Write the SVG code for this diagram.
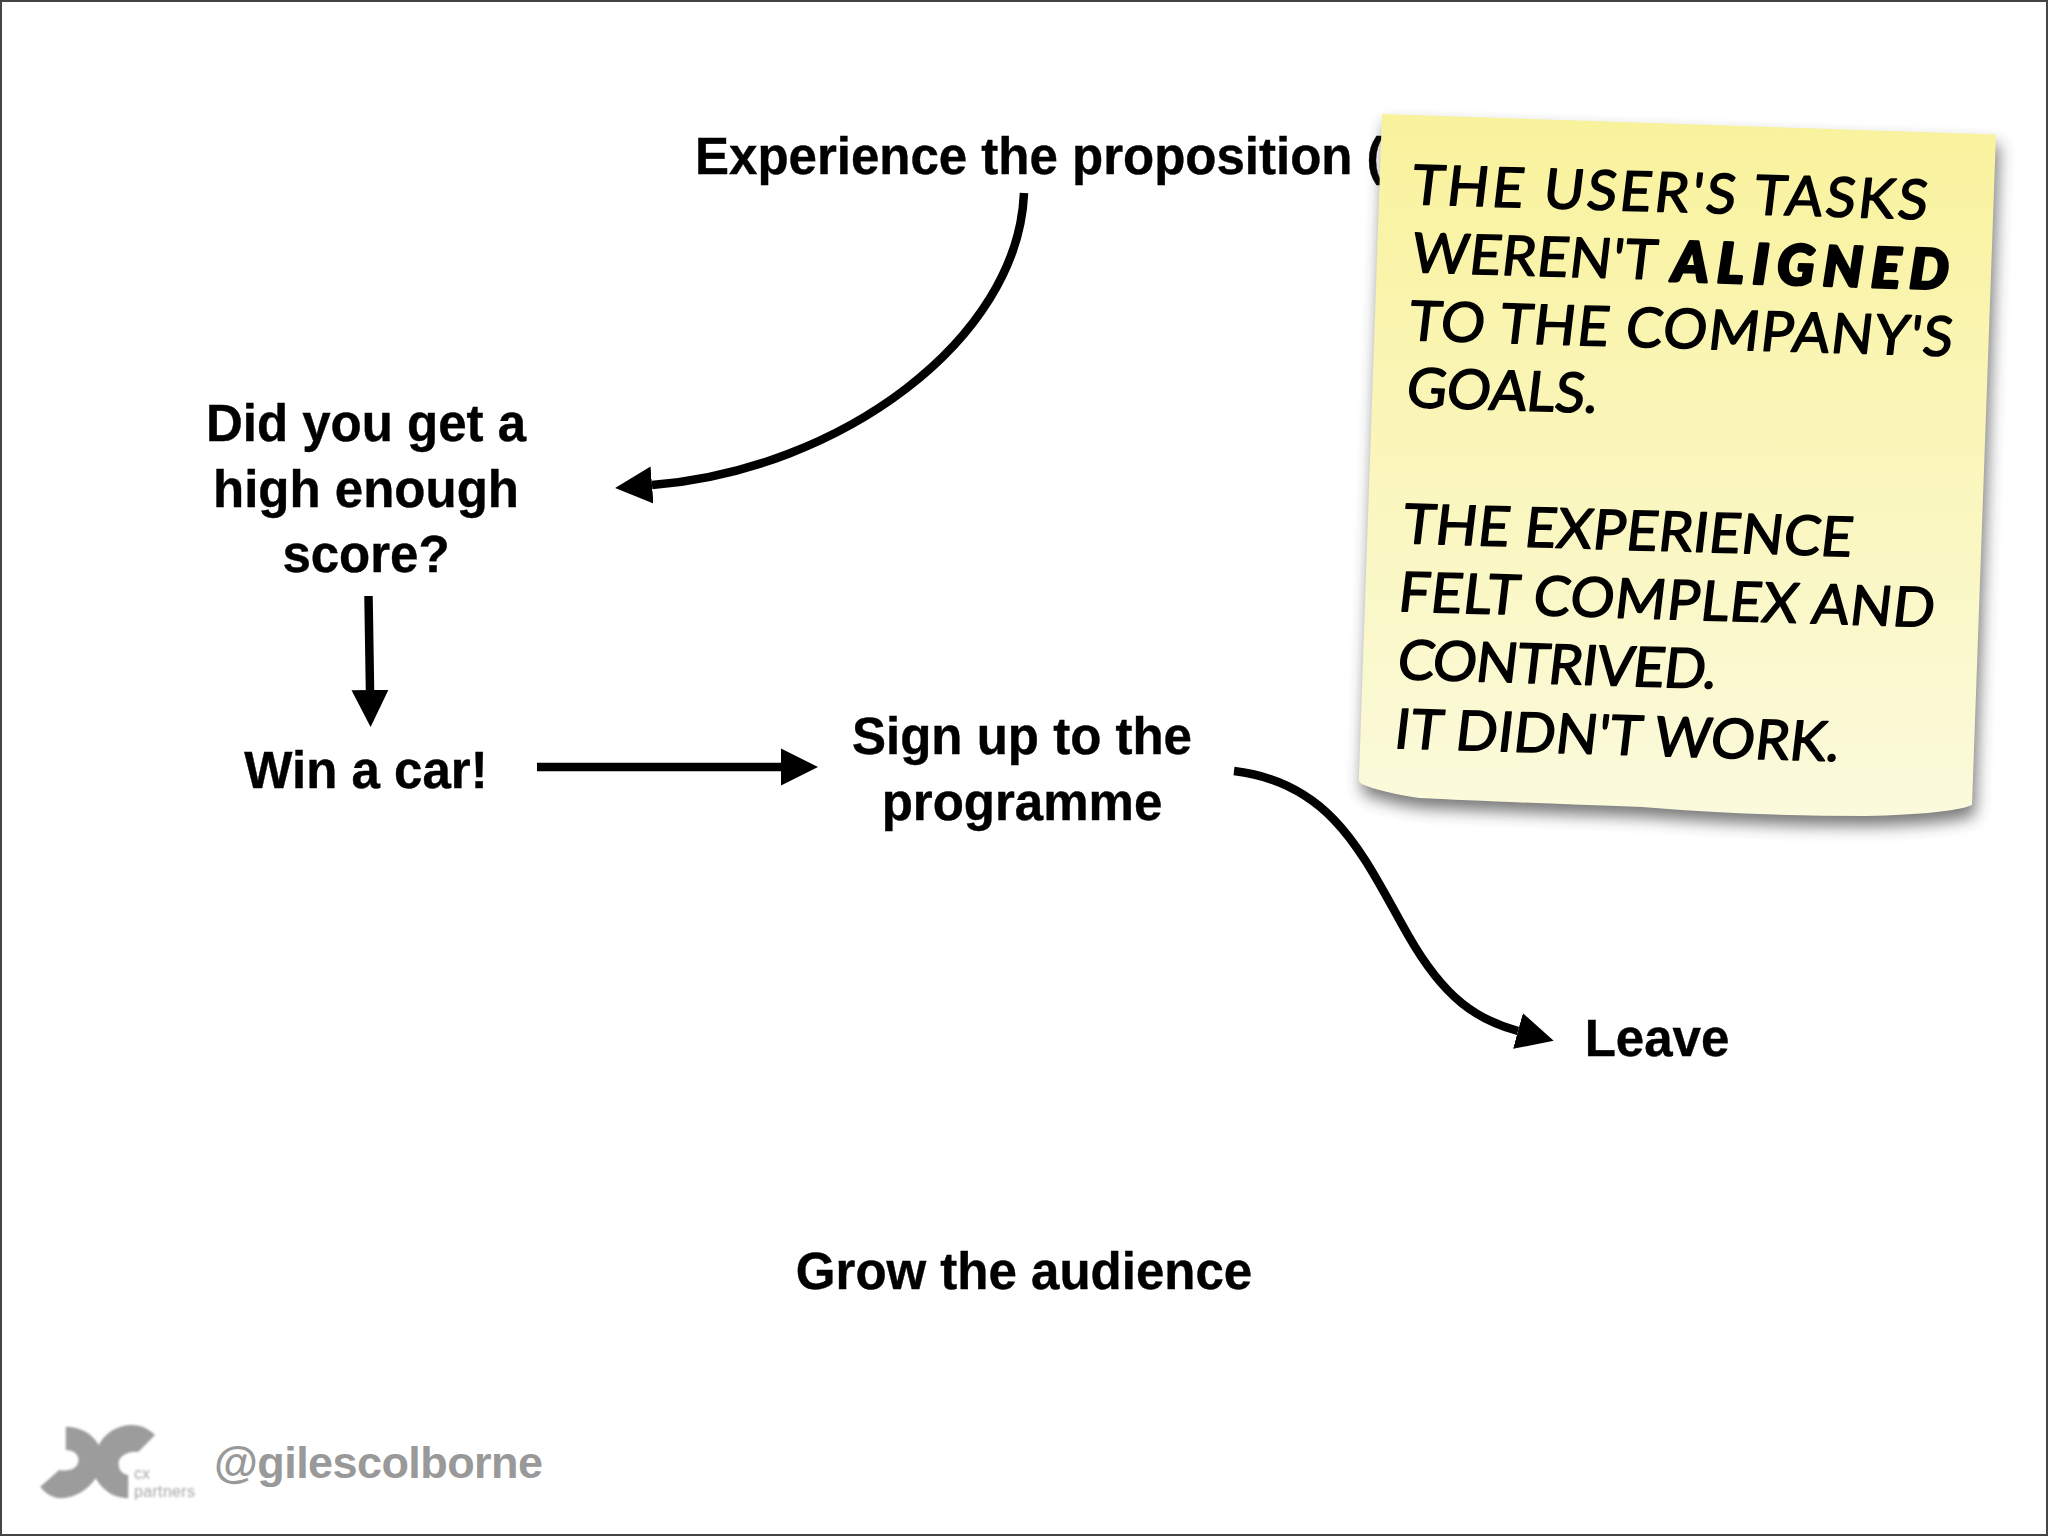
<svg xmlns="http://www.w3.org/2000/svg" width="2048" height="1536" viewBox="0 0 2048 1536">
<style>
.t{font-family:"Liberation Sans",Arial,sans-serif;font-weight:700;font-size:51px;fill:#000;text-anchor:middle;stroke:#000;stroke-width:.4px}
.n{font-family:"Lato","Noto Sans",sans-serif;font-size:55px;fill:#000;stroke:#000;stroke-width:1.500px;stroke-linejoin:round}
.b{font-weight:900;font-style:italic;stroke-width:3px}
.c{fill:none;stroke:#000;stroke-width:8.500px;marker-end:url(#h)}
.f{font-family:"Liberation Sans",sans-serif;font-size:16px;fill:#a8a8a8}
</style>
<defs>
<marker id="h" markerUnits="userSpaceOnUse" markerWidth="40" markerHeight="40" refX="0" refY="20" orient="auto"><path d="M0 1.500L37 20L0 38.500Z" fill="#000"/></marker>
<linearGradient id="y" x1="0" y1="0" x2="0" y2="1"><stop offset="0" stop-color="#f9f29c"/><stop offset="1" stop-color="#fbfadc"/></linearGradient>
<filter id="s" x="-10%" y="-10%" width="120%" height="120%"><feGaussianBlur stdDeviation="8"/></filter>
<filter id="l" x="-10%" y="-10%" width="120%" height="120%"><feGaussianBlur stdDeviation="0.9"/></filter>
<path id="np" d="M1382 114L1996 134.600L1972 805Q1950 814 1866 816Q1750 816 1642 807Q1500 802 1419 798Q1380 792 1362 784Q1358 782 1359 776Z"/>
</defs>
<rect x="1" y="1" width="2046" height="1534" fill="#fff" stroke="#444" stroke-width="2"/>
<g id="connectors">
<path class="c" d="M1024 193C1018 340 840 470 652 485"/>
<path class="c" d="M368.500 596L370 690"/>
<path class="c" d="M537 767L781 767"/>
<path class="c" d="M1234 771C1335 783 1365 860 1408 935C1445 1000 1478 1020 1518 1031"/>
</g>
<g id="node-experience"><text class="t" style="text-anchor:start" x="695" y="174">Experience the proposition (</text></g>
<g id="node-score"><text class="t" x="366" y="441">Did you get a</text><text class="t" x="366" y="507">high enough</text><text class="t" x="366" y="572">score?</text></g>
<g id="node-win"><text class="t" x="366" y="788">Win a car!</text></g>
<g id="node-signup"><text class="t" x="1022" y="754">Sign up to the</text><text class="t" x="1022" y="820">programme</text></g>
<g id="node-leave"><text class="t" x="1657" y="1056">Leave</text></g>
<g id="node-grow"><text class="t" x="1024" y="1289">Grow the audience</text></g>
<g id="note">
<use href="#np" fill="#333" opacity=".65" transform="translate(3 10)" filter="url(#s)"/>
<use href="#np" fill="url(#y)"/>
<text class="n" textLength="516" transform="translate(1410 204) rotate(1.7) skewX(-5)">THE USER'S TASKS</text>
<text class="n" textLength="245" transform="translate(1410 272) rotate(1.7) skewX(-5)">WEREN'T</text>
<text class="n b" textLength="276" transform="translate(1672 281) rotate(1.7)">ALIGNED</text>
<text class="n" textLength="544" transform="translate(1407 340) rotate(1.7) skewX(-5)">TO THE COMPANY'S</text>
<text class="n" textLength="191" transform="translate(1405 407) rotate(1.7) skewX(-5)">GOALS.</text>
<text class="n" textLength="450" transform="translate(1401 543) rotate(1.7) skewX(-5)">THE EXPERIENCE</text>
<text class="n" textLength="536" transform="translate(1397 611) rotate(1.7) skewX(-5)">FELT COMPLEX AND</text>
<text class="n" textLength="319" transform="translate(1396 679) rotate(1.7) skewX(-5)">CONTRIVED.</text>
<text class="n" textLength="445" transform="translate(1393 748) rotate(1.7) skewX(-5)">IT DIDN'T WORK.</text>
</g>
<g id="footer">
<path fill="#9c9c9c" filter="url(#l)" d="M65.800 1426.700C80 1426.700 92 1433 98.700 1445C105 1433 117 1425 132 1425C141 1425 149 1429 155 1435L138.500 1451.700C127 1451 118.600 1456 118.600 1463.300C118.600 1470 122 1474 128.200 1475L128.200 1498.300C114 1498 103 1491 95.700 1478.300C87 1491 74 1498.300 59.300 1498.300C51 1497 45 1493 40.200 1486.700L59.300 1470C70 1472 78.500 1468 78.500 1460C78.500 1454 73 1450 65.800 1450Z"/>
<text class="f" x="134" y="1479" filter="url(#l)">cx</text>
<text class="f" x="134" y="1497" textLength="61" filter="url(#l)">partners</text>
<text x="214" y="1478" font-family="Liberation Sans,sans-serif" font-weight="700" font-size="45" fill="#999" textLength="329">@gilescolborne</text>
</g>
</svg>
